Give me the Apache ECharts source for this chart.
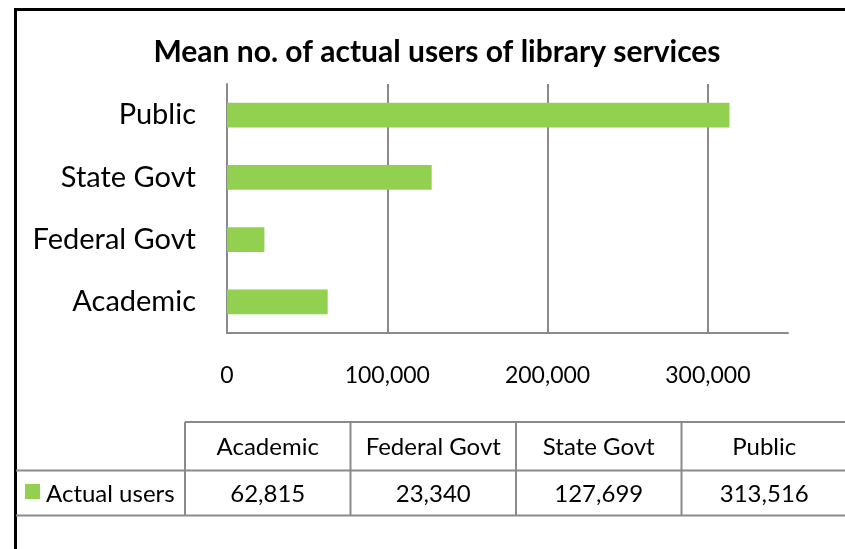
<!DOCTYPE html>
<html>
<head>
<meta charset="utf-8">
<script src="https://cdn.jsdelivr.net/npm/echarts@6/dist/echarts.min.js"></script>
<style>
  html, body { margin: 0; padding: 0; background: #ffffff; }
  #chart { width: 845px; height: 549px; }
</style>
</head>
<body>
<div id="chart"></div>
<script>
// Library types, listed bottom-to-top on the bar axis and left-to-right in the table
const categories = ['Academic', 'Federal Govt', 'State Govt', 'Public'];
// Mean number of actual users per library type
const actualUsers = [62815, 23340, 127699, 313516];
const seriesName = 'Actual users';
const titleText = 'Mean no. of actual users of library services';
// Value axis
const axisMin = 0;
const axisMax = 350000;
const axisStep = 100000;

const FONT = 'Lato, "Noto Sans", sans-serif';
const GREEN = '#92d050';
const GRAY = '#8a8a8a';

const chart = echarts.init(document.getElementById('chart'), null, { renderer: 'canvas' });

const fmt = v => v.toLocaleString('en-US');

// Data table underneath the plot
const table = { left: 185, colW: 165.5, top: 422, rowH: 48.5, rowH2: 45, frameX: 16 };
const tableGraphics = [];
const yHead = table.top, yRow = table.top + table.rowH, yEnd = yRow + table.rowH2;
const xRight = table.left + table.colW * categories.length;
const lineStyle = { stroke: GRAY, lineWidth: 2 };
tableGraphics.push({ type: 'line', shape: { x1: table.left, y1: yHead, x2: xRight, y2: yHead }, style: lineStyle });
tableGraphics.push({ type: 'line', shape: { x1: table.frameX, y1: yRow, x2: xRight, y2: yRow }, style: lineStyle });
tableGraphics.push({ type: 'line', shape: { x1: table.frameX, y1: yEnd, x2: xRight, y2: yEnd }, style: lineStyle });
for (let i = 0; i <= categories.length; i++) {
  const x = table.left + table.colW * i;
  tableGraphics.push({ type: 'line', shape: { x1: x, y1: yHead, x2: x, y2: yEnd }, style: lineStyle });
}
categories.forEach((c, i) => {
  const cx = table.left + table.colW * (i + 0.5);
  tableGraphics.push({ type: 'text', x: cx, y: yHead + table.rowH / 2 + 1,
    style: { text: c, font: '24px ' + FONT, fill: '#000', align: 'center', verticalAlign: 'middle' } });
  tableGraphics.push({ type: 'text', x: cx, y: yRow + table.rowH2 / 2 + 1,
    style: { text: fmt(actualUsers[i]), font: '24px ' + FONT, fill: '#000', align: 'center', verticalAlign: 'middle' } });
});
// Legend key in the row header
tableGraphics.push({ type: 'rect', shape: { x: 25, y: 484, width: 15, height: 15 }, style: { fill: GREEN } });
tableGraphics.push({ type: 'text', x: 46, y: yRow + table.rowH2 / 2 + 1,
  style: { text: seriesName, font: '24px ' + FONT, fill: '#000', align: 'left', verticalAlign: 'middle' } });

// Outer frame (top and left edges)
const frame = [
  { type: 'line', shape: { x1: 14, y1: 9.5, x2: 845, y2: 9.5 }, style: { stroke: '#000', lineWidth: 3 } },
  { type: 'line', shape: { x1: 15.5, y1: 8, x2: 15.5, y2: 549 }, style: { stroke: '#000', lineWidth: 3 } }
];

chart.setOption({
  backgroundColor: '#ffffff',
  animation: false,
  title: {
    text: titleText,
    left: 432,
    top: 32,
    textAlign: 'center',
    textStyle: { fontFamily: FONT, fontWeight: 'bold', fontSize: 30, color: '#000' }
  },
  grid: { left: 227, right: 57, top: 84, bottom: 216, containLabel: false },
  xAxis: {
    type: 'value',
    min: axisMin,
    max: axisMax,
    interval: axisStep,
    axisLine: { show: true, lineStyle: { color: GRAY, width: 2 } },
    axisTick: { show: false },
    axisLabel: {
      showMaxLabel: false,
      margin: 31,
      fontFamily: FONT,
      fontSize: 23,
      lineHeight: 23,
      color: '#000',
      formatter: v => fmt(v)
    },
    splitLine: { show: true, showMaxLine: false, lineStyle: { color: GRAY, width: 2 } }
  },
  yAxis: {
    type: 'category',
    data: categories,
    axisLine: { show: true, lineStyle: { color: GRAY, width: 2 } },
    axisTick: { show: false },
    axisLabel: { margin: 31, fontFamily: FONT, fontSize: 29, color: '#000' },
    splitLine: { show: false }
  },
  series: [{
    name: seriesName,
    type: 'bar',
    data: actualUsers,
    barCategoryGap: '60%',
    itemStyle: { color: GREEN }
  }],
  graphic: frame.concat(tableGraphics)
});
</script>
</body>
</html>
